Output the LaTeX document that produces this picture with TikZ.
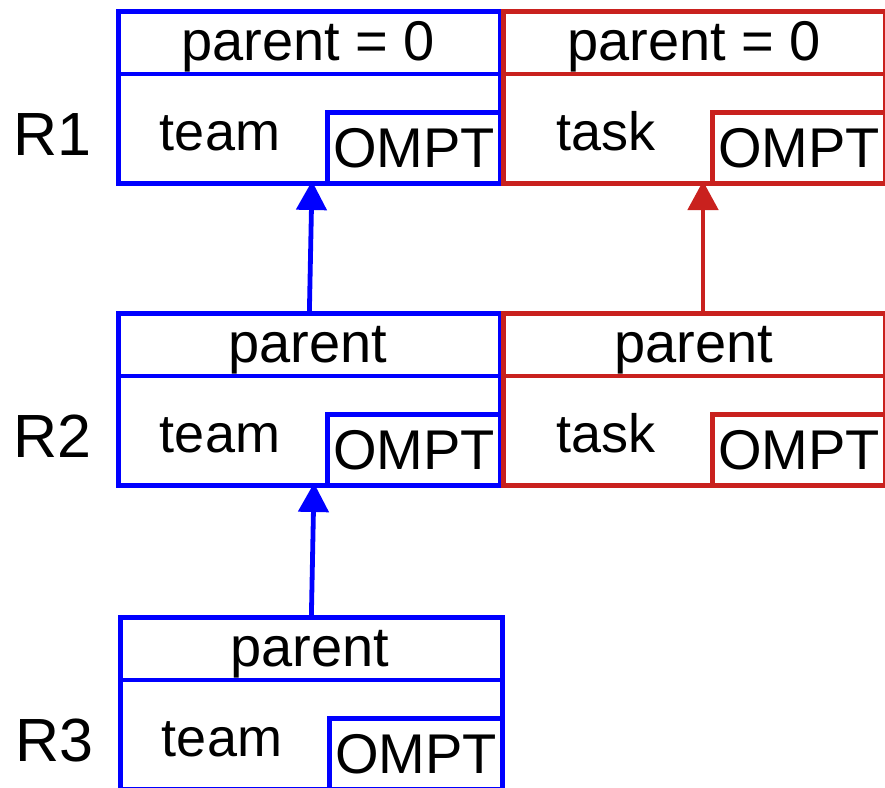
\documentclass[tikz,border=0pt]{standalone}
\usepackage{fontspec}
\setmainfont{Liberation Sans}
\usetikzlibrary{arrows.meta,calc}
\definecolor{tblue}{RGB}{0,0,255}
\definecolor{tred}{RGB}{201,33,30}
\begin{document}
\begin{tikzpicture}[x=1pt,y=-1pt,
  outerbox/.style={draw, line width=4.8pt, rectangle, minimum width=382pt, minimum height=172pt, anchor=north west, inner sep=0pt},
  omptbox/.style={draw, line width=4.8pt, rectangle, minimum width=173pt, minimum height=71pt, anchor=south east, inner sep=0pt, font=\fontsize{56}{60}\selectfont},
  hdrtext/.style={anchor=base, inner sep=0pt, font=\fontsize{56}{60}\selectfont},
  bodytext/.style={anchor=base, inner sep=0pt, font=\fontsize{54}{58}\selectfont},
  rowlabel/.style={anchor=base, inner sep=0pt, font=\fontsize{61}{65}\selectfont},
  link/.style={line width=4.8pt, -{Triangle[width=30pt,length=29pt]}}
]
\useasboundingbox (0,0) rectangle (885,787);

% ---------- Row 1 ----------
\node[outerbox, draw=tblue] (b1) at (116,9) {};
\draw[tblue, line width=4.8pt] ($(b1.north west)+(0,65)$) -- ($(b1.north east)+(0,65)$);
\node[omptbox, draw=tblue] (o1) at (b1.south east) {OMPT};
\node[hdrtext] (h1) at (308,60) {parent = 0};
\node[bodytext] (t1) at (220,150) {team};

\node[outerbox, draw=tred] (c1) at (501,9) {};
\draw[tred, line width=4.8pt] ($(c1.north west)+(0,65)$) -- ($(c1.north east)+(0,65)$);
\node[omptbox, draw=tred] (p1) at (c1.south east) {OMPT};
\node[hdrtext] (k1) at (694,60) {parent = 0};
\node[bodytext] (s1) at (606,150) {task};

\node[rowlabel] (r1) at (52,155) {R1};

% ---------- Row 2 ----------
\node[outerbox, draw=tblue] (b2) at (116,311) {};
\draw[tblue, line width=4.8pt] ($(b2.north west)+(0,65)$) -- ($(b2.north east)+(0,65)$);
\node[omptbox, draw=tblue] (o2) at (b2.south east) {OMPT};
\node[hdrtext] (h2) at (308,362) {parent};
\node[bodytext] (t2) at (220,452) {team};

\node[outerbox, draw=tred] (c2) at (501,311) {};
\draw[tred, line width=4.8pt] ($(c2.north west)+(0,65)$) -- ($(c2.north east)+(0,65)$);
\node[omptbox, draw=tred] (p2) at (c2.south east) {OMPT};
\node[hdrtext] (k2) at (694,362) {parent};
\node[bodytext] (s2) at (606,452) {task};

\node[rowlabel] (r2) at (52,457) {R2};

% ---------- Row 3 ----------
\node[outerbox, draw=tblue] (b3) at (118,615) {};
\draw[tblue, line width=4.8pt] ($(b3.north west)+(0,65)$) -- ($(b3.north east)+(0,65)$);
\node[omptbox, draw=tblue] (o3) at (b3.south east) {OMPT};
\node[hdrtext] (h3) at (310,666) {parent};
\node[bodytext] (t3) at (222,756) {team};

\node[rowlabel] (r3) at (54,761) {R3};

% ---------- Links ----------
\coordinate (a1) at (312,181);
\coordinate (a2) at (314,483);
\coordinate (a3) at (703,181);
\draw[link, tblue] (b2.north) -- (a1);
\draw[link, tblue] (b3.north) -- (a2);
\draw[link, tred] (c2.north -| a3) -- (a3);
\end{tikzpicture}
\end{document}
